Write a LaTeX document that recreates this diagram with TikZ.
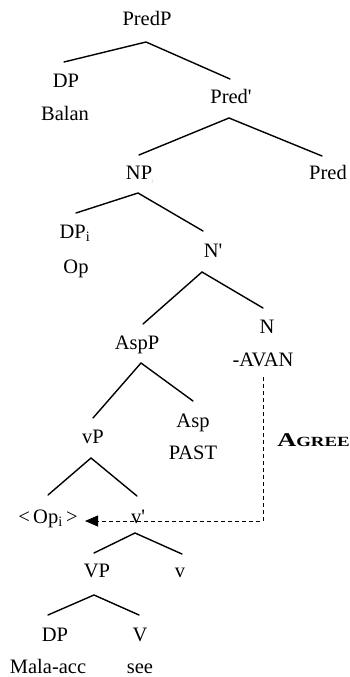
\documentclass[tikz,border=0pt]{standalone}
\usepackage{fontspec}
\usepackage{graphicx}
\setmainfont{Liberation Serif}
\usetikzlibrary{arrows.meta}
\tikzset{
  lbl/.style={anchor=base, inner sep=0pt, font=\fontsize{20.5}{24}\selectfont},
  edge/.style={line width=1.4pt, line cap=round},
  agreeline/.style={line width=1pt, dash pattern=on 4pt off 3pt}
}
\newcommand{\prm}{\textquotesingle}
\begin{document}
\begin{tikzpicture}[x=1pt,y=-1pt]
\useasboundingbox (0,0) rectangle (350,677);
% labels
\node[lbl] (predp) at (147,26) {PredP};
\node[lbl] (dp1) at (66,87) {DP};
\node[lbl] (balan) at (65,120) {Balan};
\node[lbl] (predbar) at (231,103) {Pred\prm};
\node[lbl] (np) at (140,179) {NP\textsubscript{\color{black!25}\tiny j}};
\node[lbl] (pred) at (328,179) {Pred};
\node[lbl] (dpi) at (75,238) {DP\textsubscript{i}};
\node[lbl] (op) at (76,273) {Op};
\node[lbl] (nbar) at (213,257) {N\prm};
\node[lbl] (n) at (267,333) {N};
\node[lbl] (aspp) at (137,349) {AspP};
\node[lbl] (avan) at (263,366) {-AVAN};
\node[lbl] (asp) at (193,427) {Asp};
\node[lbl] (past) at (193,459) {PAST};
\node[lbl] (vp) at (93,443) {vP};
\node[anchor=base west, inner sep=0pt, xscale=1.35] (agree) at (277,446) {\bfseries\fontsize{19.5}{20}\selectfont A\fontsize{14}{14}\selectfont GREE};
\node[lbl] (opi) at (48,523) {<\,Op\textsubscript{i}\,>};
\node[lbl] (vbar) at (138,523) {v\prm};
\node[lbl] (VP) at (97,577) {VP};
\node[lbl] (v) at (180,577) {v};
\node[lbl] (dp2) at (55,641) {DP};
\node[lbl] (V) at (140,641) {V};
\node[lbl] (mala) at (48,673) {Mala-acc};
\node[lbl] (see) at (140,673) {see};
% branch points
\coordinate (a1) at (146,42); \coordinate (a1l) at (64,62); \coordinate (a1r) at (230,79);
\coordinate (a2) at (229,118); \coordinate (a2l) at (139,155); \coordinate (a2r) at (322,156);
\coordinate (a3) at (138,193); \coordinate (a3l) at (76,213); \coordinate (a3r) at (203,231);
\coordinate (a4) at (202,272); \coordinate (a4l) at (143,324); \coordinate (a4r) at (263,308);
\coordinate (a5) at (141,363); \coordinate (a5l) at (93,418); \coordinate (a5r) at (193,401);
\coordinate (a6) at (91,458); \coordinate (a6l) at (48,495); \coordinate (a6r) at (137,496);
\coordinate (a7) at (135,533); \coordinate (a7l) at (94,553); \coordinate (a7r) at (182,554);
\coordinate (a8) at (94,595); \coordinate (a8l) at (48,615); \coordinate (a8r) at (139,615);
\foreach \i in {1,...,8}{
  \draw[edge] (a\i l) -- (a\i) -- (a\i r);
}
% agree
\coordinate (dtop) at (263,377);
\coordinate (dcorner) at (263,521);
\coordinate (dtip) at (85,521);
\draw[agreeline, -{Triangle[length=13pt,width=11pt]}] (dtop) -- (dcorner) -- (dtip);
\end{tikzpicture}
\end{document}
